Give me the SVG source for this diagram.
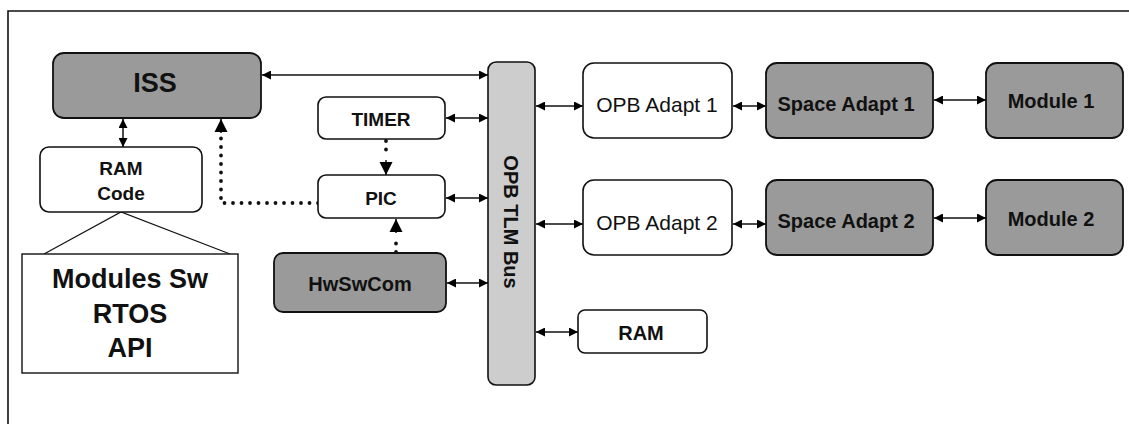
<svg xmlns="http://www.w3.org/2000/svg" width="1129" height="424" viewBox="0 0 1129 424">
<defs>
<marker id="ah" viewBox="0 0 10 10" refX="10" refY="5" markerWidth="10" markerHeight="9" markerUnits="userSpaceOnUse" orient="auto-start-reverse"><path d="M0,0 L10,5 L0,10 Z" fill="#000"/></marker>
<marker id="big" viewBox="0 0 10 10" refX="10" refY="5" markerWidth="13" markerHeight="14" markerUnits="userSpaceOnUse" orient="auto"><path d="M0,0 L10,5 L0,10 Z" fill="#000"/></marker>
</defs>
<style>
.bg{fill:#fff}
.lt{fill:#fff;stroke:#111;stroke-width:1.6}
.dk{fill:#9a9a9a;stroke:#111;stroke-width:1.8}
.bus{fill:#cdcdcd;stroke:#111;stroke-width:1.6}
.plain{fill:#fff;stroke:#111;stroke-width:1.4}
text{font-family:"Liberation Sans",Arial,sans-serif;fill:#111;text-anchor:middle}
.b{font-weight:bold}
.c line,.c path{stroke:#111;stroke-width:1.5;fill:none}
.c .arr{marker-start:url(#ah);marker-end:url(#ah)}
.c .dot{stroke-width:3.8;stroke-dasharray:0 8.5;stroke-linecap:round}
.c .tri{stroke-width:1.2}
</style>
<rect class="bg" x="0" y="0" width="1129" height="424"/>
<path d="M8,424 L8,11 L1129,11" fill="none" stroke="#111" stroke-width="1.6"/>

<g id="connectors" class="c">
<line class="arr" x1="262" y1="75" x2="488" y2="75"/>
<line class="arr" x1="446" y1="118" x2="488" y2="118"/>
<line class="arr" x1="446" y1="198" x2="488" y2="198"/>
<line class="arr" x1="447" y1="283" x2="488" y2="283"/>
<line class="arr" x1="536" y1="106" x2="583" y2="106"/>
<line class="arr" x1="536" y1="224" x2="583" y2="224"/>
<line class="arr" x1="536" y1="332" x2="578" y2="332"/>
<line class="arr" x1="733" y1="106" x2="766" y2="106"/>
<line class="arr" x1="733" y1="224" x2="766" y2="224"/>
<line class="arr" x1="934" y1="100" x2="986" y2="100"/>
<line class="arr" x1="934" y1="218" x2="986" y2="218"/>
<line class="arr" x1="123" y1="119" x2="123" y2="147"/>
<path class="dot" d="M386,141 L386,158"/>
<line x1="386" y1="160" x2="386" y2="175" style="marker-end:url(#big)"/>
<path class="dot" d="M396,252 L396,235"/>
<line x1="396" y1="233" x2="396" y2="219" style="marker-end:url(#big)"/>
<path class="dot" d="M318,203 L221,203 L221,135"/>
<line x1="221" y1="133" x2="221" y2="119" style="marker-end:url(#big)"/>
<path class="tri" d="M44,254 L121,212 L230,254"/>
</g>

<g id="iss"><rect class="dk" x="53" y="53" width="208" height="65" rx="11"/><text class="b" x="155" y="92" font-size="27">ISS</text></g>
<g id="ramcode"><rect class="lt" x="40" y="147" width="162" height="65" rx="9"/><text class="b" x="121" y="175" font-size="19">RAM</text><text class="b" x="121" y="200" font-size="19">Code</text></g>
<g id="modulessw"><rect class="plain" x="22" y="254" width="216" height="119"/><text class="b" x="130" y="288" font-size="27">Modules Sw</text><text class="b" x="130" y="323" font-size="27">RTOS</text><text class="b" x="130" y="357" font-size="27">API</text></g>
<g id="timer"><rect class="lt" x="318" y="97" width="127" height="42" rx="8"/><text class="b" x="381" y="126" font-size="19">TIMER</text></g>
<g id="pic"><rect class="lt" x="318" y="175" width="127" height="43" rx="8"/><text class="b" x="381" y="205" font-size="19">PIC</text></g>
<g id="hwswcom"><rect class="dk" x="274" y="253" width="172" height="59" rx="9"/><text class="b" x="360" y="291" font-size="20">HwSwCom</text></g>
<g id="bus"><rect class="bus" x="488" y="62" width="47" height="323" rx="8"/><text class="b" transform="translate(504,222) rotate(90)" x="0" y="0" font-size="20">OPB TLM Bus</text></g>
<g id="opb1"><rect class="lt" x="583" y="63" width="149" height="75" rx="11"/><text x="657" y="112" font-size="21">OPB Adapt 1</text></g>
<g id="opb2"><rect class="lt" x="583" y="180" width="149" height="75" rx="11"/><text x="657" y="230" font-size="21">OPB Adapt 2</text></g>
<g id="ram"><rect class="lt" x="578" y="310" width="129" height="43" rx="7"/><text class="b" x="641" y="340" font-size="20">RAM</text></g>
<g id="space1"><rect class="dk" x="766" y="63" width="167" height="75" rx="11"/><text class="b" x="846" y="111" font-size="20">Space Adapt 1</text></g>
<g id="space2"><rect class="dk" x="766" y="180" width="167" height="75" rx="11"/><text class="b" x="846" y="228" font-size="20">Space Adapt 2</text></g>
<g id="module1"><rect class="dk" x="986" y="63" width="137" height="75" rx="11"/><text class="b" x="1051" y="108" font-size="20">Module 1</text></g>
<g id="module2"><rect class="dk" x="986" y="180" width="137" height="75" rx="11"/><text class="b" x="1051" y="226" font-size="20">Module 2</text></g>
</svg>
